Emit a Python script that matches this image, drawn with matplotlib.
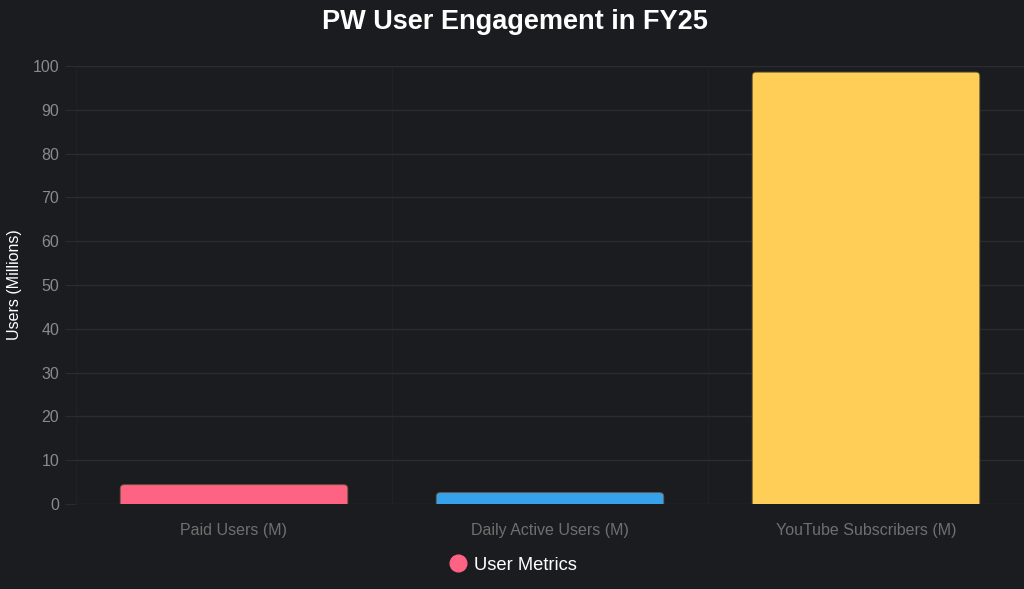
import matplotlib as mpl
mpl.use('Agg')
import matplotlib.pyplot as plt
from matplotlib.patches import FancyBboxPatch
from matplotlib.lines import Line2D

categories = ['Paid Users (M)', 'Daily Active Users (M)', 'YouTube Subscribers (M)']
values = [4.4, 2.6, 98.6]
colors = ['#FF6384', '#36A2EB', '#FFCE56']
yticks = list(range(0, 101, 10))

bg = '#1b1c20'
grid_col = '#2b2c31'
vgrid_col = '#202126'
tick_col = '#8a8a8a'

plt.rcParams['font.family'] = ['Liberation Sans', 'DejaVu Sans']

fig = plt.figure(figsize=(10.24, 5.89), dpi=100, facecolor=bg)
ax = fig.add_axes([76/1024, 1 - 504/589, (1024 - 76)/1024, (504 - 66)/589])
ax.set_facecolor(bg)

x = list(range(len(categories)))
bars = ax.bar(x, values, width=0.72, color=colors)

# swap plain bars for ones with rounded top corners
ax.set_xlim(-0.5, 2.5)
ax.set_ylim(0, 100)
px_x = ax.bbox.width / 3.0
px_y = ax.bbox.height / 100.0
aspect = px_x / px_y
for b, c in zip(bars, colors):
    b.set_visible(False)
    r = 4.0 / px_x
    p = FancyBboxPatch((b.get_x(), -3), b.get_width(), b.get_height() + 3,
                       boxstyle=f'round,pad=0,rounding_size={r}',
                       mutation_aspect=aspect, facecolor=c,
                       edgecolor='#6b5a3a', linewidth=0.6, zorder=3)
    ax.add_patch(p)

ax.set_yticks(yticks)
ax.set_xticks(x)
ax.set_xticklabels(categories)
ax.set_xticks([-0.5, 0.5, 1.5, 2.5], minor=True)
ax.grid(True, axis='y', color=grid_col, linewidth=1)
ax.grid(True, axis='x', which='minor', color=vgrid_col, linewidth=1)
ax.grid(False, axis='x', which='major')
ax.set_axisbelow(True)
ax.tick_params(axis='y', colors=grid_col, labelcolor=tick_col, labelsize=11.5, length=8, pad=4)
ax.tick_params(axis='x', which='major', length=0, labelcolor='#6f6f6f', labelsize=11.5, pad=14)
ax.tick_params(axis='x', which='minor', length=0)
for s in ax.spines.values():
    s.set_visible(False)

ax.set_ylabel('Users (Millions)', color='white', fontsize=11.5)
ax.yaxis.set_label_coords(-54/948, 0.5)

fig.text(515/1024, 1 - 22/589, 'PW User Engagement in FY25', color='white',
         fontsize=19.5, fontweight='bold', ha='center', va='center')

handle = Line2D([], [], marker='o', linestyle='none', markersize=12,
                markerfacecolor=colors[0], markeredgecolor=colors[0])
fig.legend([handle], ['User Metrics'], loc='center', bbox_to_anchor=(512/1024, 1 - 565/589),
           frameon=False, labelcolor='white', fontsize=13.2, handletextpad=0.3,
           handlelength=1.2)

fig.savefig('out.png', dpi=100, facecolor=bg)
